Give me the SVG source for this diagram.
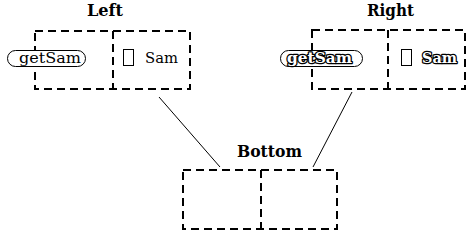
<svg xmlns="http://www.w3.org/2000/svg" width="470" height="232" viewBox="0 0 470 232">
<style>
.box{fill:none;stroke:#000;stroke-width:2;stroke-dasharray:8,5}
.title{font-family:"DejaVu Serif","Liberation Serif",serif;font-weight:bold;font-size:16px;fill:#000}
.lbl{font-family:"DejaVu Serif","Liberation Serif",serif;font-size:15px;fill:#000}
.emb{font-family:"DejaVu Serif","Liberation Serif",serif;font-size:15px;font-weight:bold;fill:#fff;stroke:#000;stroke-width:2.5;paint-order:stroke;stroke-linejoin:round}
.ell{fill:#fff;stroke:#000;stroke-width:1}
.sq{fill:#fff;stroke:#000;stroke-width:1}
.conn{stroke:#000;stroke-width:1;fill:none}
</style>
<rect width="470" height="232" fill="#fff"/>
<g id="connectors">
<line class="conn" x1="159" y1="97" x2="220" y2="167"/>
<line class="conn" x1="352" y1="92" x2="313" y2="167"/>
</g>
<g id="left">
<text class="title" x="87" y="16" textLength="36" lengthAdjust="spacingAndGlyphs">Left</text>
<rect class="box" x="35" y="31" width="155" height="58"/>
<line class="box" x1="113" y1="31" x2="113" y2="89"/>
<rect class="ell" x="7.5" y="50.5" width="78" height="16" rx="8" ry="8"/>
<text class="lbl" x="19" y="63" textLength="62" lengthAdjust="spacingAndGlyphs">getSam</text>
<rect class="sq" x="123.5" y="49.5" width="10" height="16"/>
<text class="lbl" x="145" y="63" textLength="33" lengthAdjust="spacingAndGlyphs">Sam</text>
</g>
<g id="right">
<text class="title" x="367" y="16" textLength="47" lengthAdjust="spacingAndGlyphs">Right</text>
<rect class="box" x="312" y="30" width="153" height="59"/>
<line class="box" x1="388" y1="30" x2="388" y2="89"/>
<rect class="ell" x="280.5" y="50.5" width="82" height="16" rx="8" ry="8"/>
<text class="emb" x="287" y="63" textLength="65" lengthAdjust="spacingAndGlyphs">getSam</text>
<rect class="sq" x="401.5" y="49.5" width="10" height="16"/>
<text class="emb" x="422" y="63" textLength="35" lengthAdjust="spacingAndGlyphs">Sam</text>
</g>
<g id="bottom">
<text class="title" x="237" y="157" textLength="65" lengthAdjust="spacingAndGlyphs">Bottom</text>
<rect class="box" x="183" y="170" width="154" height="59"/>
<line class="box" x1="261" y1="170" x2="261" y2="229"/>
</g>
</svg>
